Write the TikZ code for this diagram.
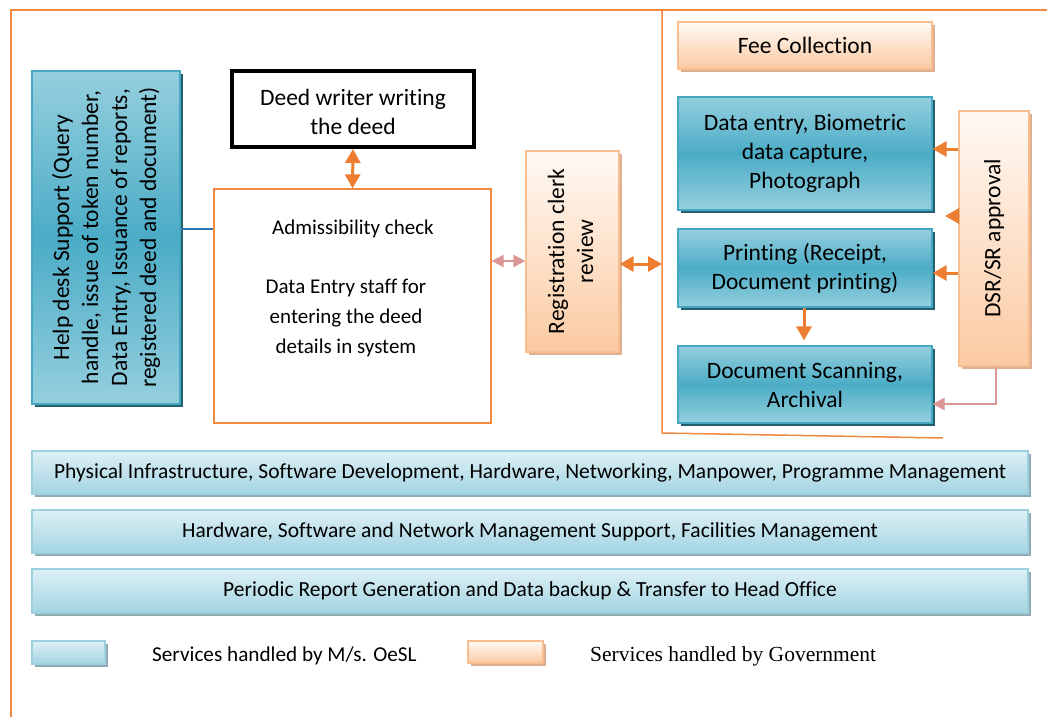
\documentclass[tikz,border=0pt]{standalone}
\usepackage{fontspec}
\setmainfont[Ligatures=NoCommon]{Carlito}
\newfontfamily\govserif{Liberation Serif}
\usetikzlibrary{arrows.meta,shadows,calc}
\definecolor{frameor}{HTML}{F08A40}
\definecolor{bdark}{HTML}{4BACC6}
\definecolor{blight}{HTML}{95CFDE}
\definecolor{bborder}{HTML}{45A8C3}
\definecolor{bshadow}{HTML}{24606F}
\definecolor{otop}{HTML}{FFF9F4}
\definecolor{obot}{HTML}{FBCAA2}
\definecolor{oborder}{HTML}{F9BE90}
\definecolor{oshadow}{HTML}{DDB092}
\definecolor{bartop}{HTML}{DDF0F5}
\definecolor{barbot}{HTML}{A3D4E2}
\definecolor{barborder}{HTML}{9ED1DF}
\definecolor{barshadow}{HTML}{8FABB4}
\definecolor{arrowor}{HTML}{ED7D31}
\definecolor{pinkarr}{HTML}{D99694}
\definecolor{hdline}{HTML}{2E75B6}
\newcommand\fbig{\fontsize{23.5}{29}\selectfont}
\newcommand\fmid{\fontsize{21}{30}\selectfont}
\newcommand\fbar{\fontsize{21.5}{24}\selectfont}
\begin{document}
\begin{tikzpicture}[x=1pt,y=-1pt,
  bbox/.style={draw=bborder, line width=1.2pt, top color=blight, bottom color=blight, middle color=bdark,
    drop shadow={shadow xshift=3pt,shadow yshift=-3pt,fill=bshadow,opacity=1}, inner sep=0pt, align=center, font=\fbig},
  obox/.style={draw=oborder, line width=1.2pt, top color=otop, bottom color=obot,
    drop shadow={shadow xshift=3pt,shadow yshift=-3pt,fill=oshadow,opacity=1}, inner sep=0pt, align=center, font=\fbig},
  barbox/.style={draw=barborder, line width=1.5pt, top color=bartop, bottom color=barbot,
    drop shadow={shadow xshift=3pt,shadow yshift=-3pt,fill=barshadow,opacity=1}, inner sep=0pt, align=center, font=\fbar},
  framel/.style={draw=frameor, line width=1.5pt},
  oarr/.style={draw=arrowor, line width=3pt, -{Triangle[length=14pt,width=15pt]}},
  oarrd/.style={draw=arrowor, line width=3pt, {Triangle[length=14pt,width=15pt]}-{Triangle[length=14pt,width=15pt]}},
  parr/.style={draw=pinkarr, line width=2pt, -{Triangle[length=12pt,width=12pt]}},
  parrd/.style={draw=pinkarr, line width=2pt, {Triangle[length=12pt,width=12pt]}-{Triangle[length=12pt,width=12pt]}},
  rtext/.style={rotate=90, align=center, font=\fbig, inner sep=0pt}
]
\useasboundingbox (0,0) rectangle (1047,717);
\fill[white] (0,0) rectangle (1047,717);

% outer frame
\coordinate (ftr) at (1047,10);
\coordinate (ftl) at (11,10);
\coordinate (fbl) at (11,717);
\draw[framel] (ftr) -- (ftl) -- (fbl);
% right region frame
\coordinate (rtop) at (662,10);
\coordinate (rbot) at (662,433);
\coordinate (rend) at (943,438);
\draw[framel] (rtop) -- (rbot) -- (rend);

% help desk
\node[bbox, minimum width=148pt, minimum height=333pt] (hd) at (106,237.5) {};
\node[rtext] (hdt) at (hd.center) {Help desk Support (Query\\handle, issue of token number,\\Data Entry, Issuance of reports,\\registered deed and document)};

% deed writer
\node[draw=black, line width=4pt, fill=white, minimum width=242pt, minimum height=76pt, inner sep=0pt] (deed) at (353,109) {};
\node[align=center, font=\fbig, inner sep=0pt] (deedt) at (353,112) {Deed writer writing\\the deed};

% admissibility
\node[draw=frameor, line width=1.3pt, fill=white, minimum width=277pt, minimum height=234pt, inner sep=0pt] (adm) at (352.5,306) {};
\node[font=\fmid, inner sep=0pt] (admt1) at (353,229) {Admissibility check};
\node[font=\fmid, align=center, inner sep=0pt] (admt2) at (346,318) {Data Entry staff for\\entering the deed\\details in system};

% registration clerk
\node[obox, minimum width=93pt, minimum height=201pt] (reg) at (572.5,251.5) {};
\node[rtext] (regt) at ([xshift=-2pt]reg.center) {Registration clerk\\review};

% right side
\node[obox, minimum width=254pt, minimum height=47pt] (fee) at (805,45.5) {Fee Collection};
\node[bbox, minimum width=254pt, minimum height=113pt] (de) at (805,153.5) {Data entry, Biometric\\data capture,\\Photograph};
\node[bbox, minimum width=254pt, minimum height=78pt] (pr) at (805,268) {Printing (Receipt,\\Document printing)};
\node[bbox, minimum width=254pt, minimum height=77pt] (ds) at (805,384.5) {Document Scanning,\\Archival};
\node[obox, minimum width=70pt, minimum height=255pt] (dsr) at (994,238.5) {};
\node[rtext] (dsrt) at (dsr.center) {DSR/SR approval};

% bars
\node[barbox, minimum width=996pt, minimum height=43pt] (bar1) at (530,472.5) {Physical Infrastructure, Software Development, Hardware, Networking, Manpower, Programme Management};
\node[barbox, minimum width=996pt, minimum height=43pt] (bar2) at (530,531.5) {Hardware, Software and Network Management Support, Facilities Management};
\node[barbox, minimum width=996pt, minimum height=44pt] (bar3) at (530,591) {Periodic Report Generation and Data backup \& Transfer to Head Office};

% legend
\node[barbox, minimum width=73pt, minimum height=23pt] (legb) at (68.5,652.5) {};
\node[anchor=west, font=\fontsize{21.2}{24}\selectfont, inner sep=0pt] (legbt) at (152,656) {Services handled by M/s. OeSL};
\node[obox, minimum width=75pt, minimum height=22pt] (lego) at (505.5,652) {};
\node[anchor=west, font=\govserif\fontsize{21.5}{24}\selectfont, inner sep=0pt] (legot) at (590,656) {Services handled by Government};

% connectors
\draw[draw=hdline, line width=2pt] ([yshift=8.5pt]hd.east) -- ([yshift=8.5pt]hd.east -| adm.west);
\draw[oarrd] (deed.south) -- (adm.north);
\coordinate (yp) at (0,261);
\draw[parrd] (adm.east |- yp) -- (reg.west |- yp);
\coordinate (yr) at (0,264);
\draw[oarrd] (reg.east |- yr) -- (rtop |- yr);
\coordinate (ya) at (0,149);
\draw[oarr] (dsr.west |- ya) -- (de.east |- ya);
\coordinate (dang) at (945,216);
\draw[oarr] (dsr.west |- dang) -- (dang);
\coordinate (yb) at (0,273);
\draw[oarr] (dsr.west |- yb) -- (pr.east |- yb);
\draw[oarr, shorten >=5pt] ([xshift=-1pt]pr.south) -- ([xshift=-1pt]ds.north);
\draw[parr] ([xshift=2pt]dsr.south) |- ([yshift=-19.5pt]ds.east);
\end{tikzpicture}
\end{document}
